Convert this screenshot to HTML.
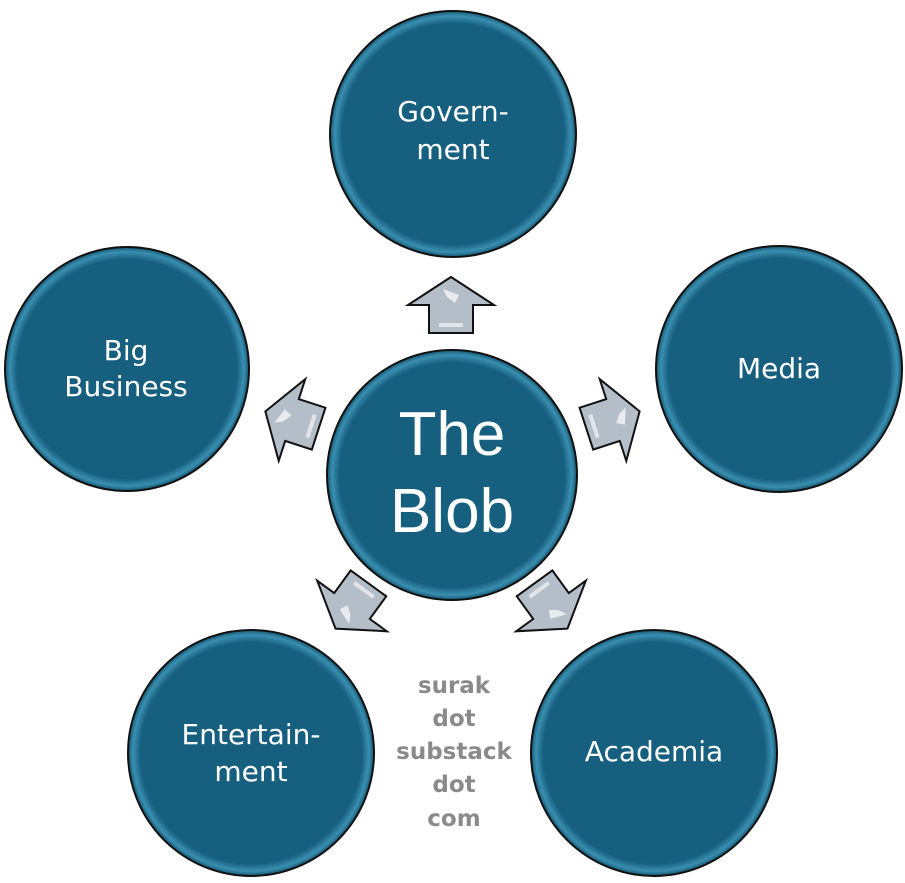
<!DOCTYPE html>
<html><head><meta charset="utf-8"><style>
html,body{margin:0;padding:0;background:#fff;}
svg{display:block;}
text{font-family:"DejaVu Sans",sans-serif;}
</style></head><body>
<svg width="905" height="883" viewBox="0 0 905 883" xmlns="http://www.w3.org/2000/svg">
<defs>
<radialGradient id="g" cx="50%" cy="50%" r="50%">
<stop offset="0.9" stop-color="#175f7f"/>
<stop offset="0.96" stop-color="#3a8fb0"/>
<stop offset="1" stop-color="#145673"/>
</radialGradient>
<g id="arr">
<polygon points="0,-28 43,0 22,0 22,28 -22,28 -22,0 -43,0" fill="#b4bec8" stroke="#111" stroke-width="2" stroke-linejoin="miter"/>
<polygon points="-8,-16 8,-10 4,-2 -4,-8" fill="#fff" opacity="0.7"/>
<rect x="-12" y="18" width="24" height="4" fill="#fff" opacity="0.6"/>
</g>
</defs>
<g stroke="#111" stroke-width="2" fill="url(#g)">
<circle cx="453" cy="134" r="123"/>
<circle cx="779" cy="369" r="123"/>
<circle cx="127" cy="369" r="122"/>
<circle cx="452" cy="475" r="125"/>
<circle cx="251" cy="753" r="123"/>
<circle cx="654" cy="753" r="123"/>
</g>
<use href="#arr" transform="translate(451,305)"/>
<use href="#arr" transform="translate(613,420) rotate(72)"/>
<use href="#arr" transform="translate(292,420) rotate(-72)"/>
<use href="#arr" transform="translate(551,606) rotate(144)"/>
<use href="#arr" transform="translate(352,606) rotate(-144)"/>
<g fill="#fff" font-size="28" text-anchor="middle">
<text x="453" y="121">Govern-</text>
<text x="453" y="159">ment</text>
<text x="779" y="378">Media</text>
<text x="126" y="360">Big</text>
<text x="126" y="396">Business</text>
<text x="251" y="744">Entertain-</text>
<text x="251" y="781">ment</text>
<text x="654" y="761">Academia</text>
<text x="452" y="455" font-size="62" style="font-family:'Liberation Sans',sans-serif">The</text>
<text x="452" y="532" font-size="62" style="font-family:'Liberation Sans',sans-serif">Blob</text>
</g>
<g fill="#8a8a8a" font-size="23" font-weight="bold" text-anchor="middle">
<text x="454" y="693">surak</text>
<text x="454" y="726">dot</text>
<text x="454" y="759">substack</text>
<text x="454" y="792">dot</text>
<text x="454" y="826">com</text>
</g>
</svg>
</body></html>
